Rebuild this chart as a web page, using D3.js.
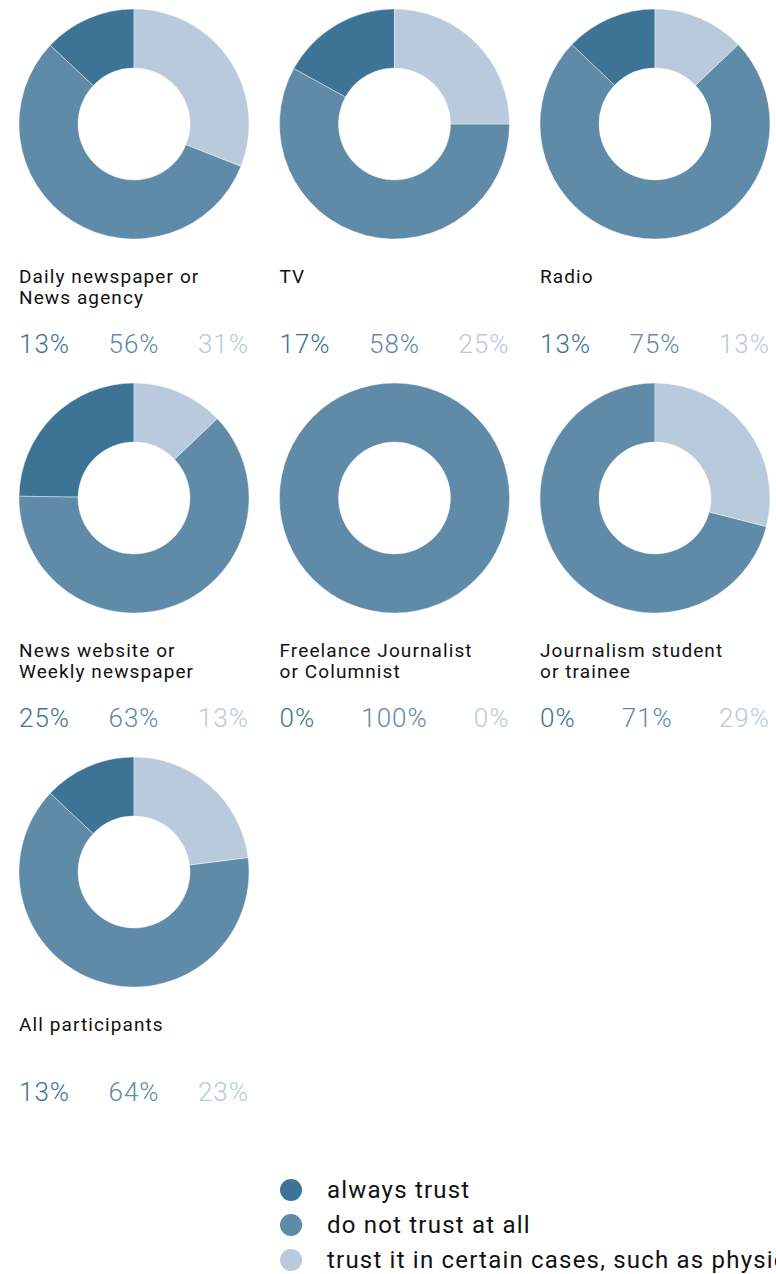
<!DOCTYPE html>
<html>
<head>
<meta charset="utf-8">
<script src="https://cdn.jsdelivr.net/npm/d3@7"></script>
<style>
  html, body { margin: 0; padding: 0; background: #fff; overflow: hidden; }
  svg { display: block; font-family: Roboto, "Noto Sans", sans-serif; }
</style>
</head>
<body>
<svg id="chart" width="776" height="1274"></svg>
<script>
// Trust in media by respondent group (share of participants, %)
const categories = [
  "Daily newspaper or\nNews agency",
  "TV",
  "Radio",
  "News website or\nWeekly newspaper",
  "Freelance Journalist\nor Columnist",
  "Journalism student\nor trainee",
  "All participants"
];
const seriesNames = [
  "always trust",
  "do not trust at all",
  "trust it in certain cases, such as physical evidence"
];
const alwaysTrust  = [13, 17, 13, 25,   0,  0, 13];
const doNotTrust   = [56, 58, 75, 63, 100, 71, 64];
const certainCases = [31, 25, 13, 13,   0, 29, 23];

const colors = ["#3d7496", "#5f8aa8", "#b8cadb"];

const svg = d3.select("#chart");

const cellW = 230, colStep = 260.5, rowStep = 374, left0 = 19, top0 = 9;
const outerR = 115, innerR = 56;

const color = d3.scaleOrdinal().domain(seriesNames).range(colors);

// slices run counter-clockwise from twelve o'clock
const pie = d3.pie()
  .sort(null)
  .value(d => d.value)
  .startAngle(0)
  .endAngle(-2 * Math.PI);

const arc = d3.arc().innerRadius(innerR).outerRadius(outerR);

const groups = categories.map((name, i) => ({
  name,
  values: [alwaysTrust[i], doNotTrust[i], certainCases[i]].map((v, k) => ({ key: seriesNames[k], value: v }))
}));

const cells = svg.selectAll("g.cell")
  .data(groups)
  .join("g")
  .attr("class", "cell")
  .attr("transform", (d, i) => `translate(${left0 + (i % 3) * colStep},${top0 + Math.floor(i / 3) * rowStep})`);

// donut
cells.append("g")
  .attr("transform", `translate(${cellW / 2},${outerR})`)
  .selectAll("path")
  .data(d => pie(d.values).filter(a => a.value > 0))
  .join("path")
  .attr("d", arc)
  .attr("fill", a => color(a.data.key))
  .attr("stroke", "#fff")
  .attr("stroke-width", 0.4);

// group title (one or two lines)
cells.append("text")
  .attr("y", outerR + 159)
  .attr("font-size", 19)
  .attr("letter-spacing", 1.1)
  .attr("fill", "#111")
  .selectAll("tspan")
  .data(d => d.name.split("\n"))
  .join("tspan")
  .attr("x", 0)
  .attr("dy", (t, j) => j === 0 ? 0 : 20.5)
  .text(t => t);

// percentage row, spread across the cell width
cells.each(function (d) {
  const g = d3.select(this).append("g").attr("transform", `translate(0,${outerR + 229})`);
  const labels = g.selectAll("text")
    .data(d.values)
    .join("text")
    .attr("font-size", 26)
    .attr("font-weight", 300)
    .attr("letter-spacing", 1)
    .attr("fill", v => color(v.key))
    .text(v => v.value + "%");
  const widths = labels.nodes().map(n => n.getComputedTextLength());
  const gap = (cellW - d3.sum(widths)) / (widths.length - 1);
  let x = 0;
  labels.attr("x", (v, k) => { const px = x; x += widths[k] + gap; return px; });
});

// legend
const legend = svg.append("g").attr("transform", "translate(291,1190)");
const items = legend.selectAll("g")
  .data(seriesNames)
  .join("g")
  .attr("transform", (d, i) => `translate(0,${i * 35})`);
items.append("circle").attr("r", 11).attr("fill", d => color(d));
items.append("text")
  .attr("x", 36)
  .attr("y", 8)
  .attr("font-size", 24)
  .attr("letter-spacing", 1.2)
  .attr("fill", "#111")
  .text(d => d);
</script>
</body>
</html>
